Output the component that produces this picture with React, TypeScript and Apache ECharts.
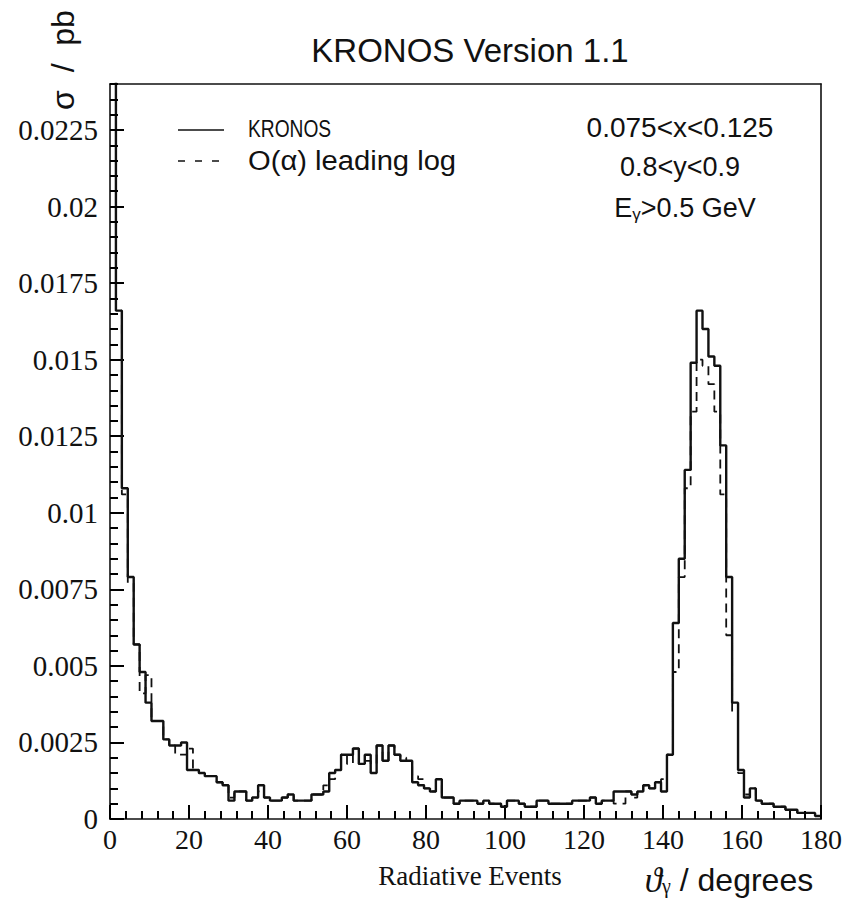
import React, { useEffect, useRef } from "react";
import * as echarts from "echarts";

// Histogram bins: 120 bins of 1.5 degrees from 0 to 180
const BIN_WIDTH = 1.5;
const X_MIN = 0;
const X_MAX = 180;
const Y_MAX = 0.024;

// KRONOS (solid) — value per bin, sigma / pb
const KRONOS = [
  0.0280, 0.0166, 0.0108, 0.0079, 0.0057, 0.0048, 0.0038, 0.0032, 0.0032, 0.0026,
  0.0024, 0.0024, 0.0025, 0.0016, 0.0016, 0.0015, 0.0014, 0.0014, 0.0012, 0.0011,
  0.0006, 0.0009, 0.0009, 0.0006, 0.0007, 0.0011, 0.0007, 0.0006, 0.0006, 0.0007,
  0.0008, 0.0006, 0.0006, 0.0006, 0.0008, 0.0008, 0.0009, 0.0015, 0.0016, 0.0021,
  0.0021, 0.0023, 0.0018, 0.0021, 0.0015, 0.0024, 0.0019, 0.0024, 0.0021, 0.0019,
  0.0019, 0.0012, 0.0011, 0.0010, 0.0009, 0.0013, 0.0007, 0.0007, 0.0005, 0.0006,
  0.0006, 0.0006, 0.0005, 0.0006, 0.0005, 0.0005, 0.0004, 0.0006, 0.0006, 0.0005,
  0.0004, 0.0004, 0.0006, 0.0006, 0.0005, 0.0005, 0.0005, 0.0005, 0.0006, 0.0006,
  0.0006, 0.0007, 0.0005, 0.0006, 0.0006, 0.0009, 0.0009, 0.0009, 0.0008, 0.0009,
  0.0011, 0.0010, 0.0012, 0.0009, 0.0021, 0.0064, 0.0085, 0.0114, 0.0149, 0.0166,
  0.0160, 0.0151, 0.0148, 0.0122, 0.0079, 0.0038, 0.0016, 0.0007, 0.0010, 0.0006,
  0.0005, 0.0005, 0.0004, 0.0004, 0.0003, 0.0003, 0.0002, 0.0002, 0.0002, 0.0001,
];

// O(alpha) leading log (dashed)
const LEADING_LOG = [
  0.0280, 0.0166, 0.0106, 0.0077, 0.0057, 0.0041, 0.0047, 0.0032, 0.0032, 0.0026,
  0.0024, 0.0021, 0.0021, 0.0023, 0.0016, 0.0015, 0.0014, 0.0014, 0.0012, 0.0011,
  0.0007, 0.0009, 0.0009, 0.0006, 0.0007, 0.0009, 0.0007, 0.0006, 0.0006, 0.0007,
  0.0008, 0.0006, 0.0006, 0.0006, 0.0008, 0.0008, 0.0011, 0.0013, 0.0016, 0.0021,
  0.0018, 0.0023, 0.0018, 0.0019, 0.0018, 0.0024, 0.0019, 0.0024, 0.0021, 0.0020,
  0.0019, 0.0014, 0.0013, 0.0010, 0.0009, 0.0011, 0.0007, 0.0007, 0.0005, 0.0006,
  0.0006, 0.0006, 0.0005, 0.0006, 0.0005, 0.0005, 0.0004, 0.0006, 0.0006, 0.0005,
  0.0004, 0.0004, 0.0006, 0.0006, 0.0005, 0.0005, 0.0005, 0.0005, 0.0006, 0.0006,
  0.0006, 0.0007, 0.0005, 0.0006, 0.0006, 0.0005, 0.0005, 0.0009, 0.0007, 0.0009,
  0.0011, 0.0010, 0.0012, 0.0013, 0.0021, 0.0048, 0.0079, 0.0108, 0.0133, 0.0150,
  0.0148, 0.0142, 0.0133, 0.0106, 0.0060, 0.0035, 0.0015, 0.0008, 0.0010, 0.0006,
  0.0005, 0.0005, 0.0004, 0.0004, 0.0003, 0.0003, 0.0002, 0.0002, 0.0002, 0.0001,
];

const X_TICK_LABELS = ["0", "20", "40", "60", "80", "100", "120", "140", "160", "180"];
const Y_TICK_LABELS = ["0", "0.0025", "0.005", "0.0075", "0.01", "0.0125", "0.015", "0.0175", "0.02", "0.0225"];
const X_MAJOR_STEP = 20;
const X_MINOR_STEP = 4;
const Y_MAJOR_STEP = 0.0025;
const Y_MINOR_STEP = 0.0005;

const TITLE = "KRONOS Version 1.1";
const LEGEND = ["KRONOS", "O(α) leading log"];
const CUTS = ["0.075<x<0.125", "0.8<y<0.9"];

const GRID = { left: 110, right: 25, top: 84, bottom: 81 };
const PLOT_W = 846 - GRID.left - GRID.right;
const PLOT_H = 900 - GRID.top - GRID.bottom;

function toSteps(vals: number[]) {
  const pts: number[][] = vals.map((v, i) => [i * BIN_WIDTH, v]);
  pts.push([X_MAX, vals[vals.length - 1]]);
  return pts;
}

// inward minor tick marks as short segments in data space (length given in px)
function tickSegments(axis: "x" | "y", step: number, max: number, lenPx: number) {
  const out: { coords: number[][] }[] = [];
  const n = Math.round(max / step + 1e-9);
  for (let i = 0; i <= n; i++) {
    const v = +(i * step).toFixed(6);
    if (axis === "x") out.push({ coords: [[v, 0], [v, (lenPx / PLOT_H) * Y_MAX]] });
    else out.push({ coords: [[X_MIN, v], [X_MIN + (lenPx / PLOT_W) * (X_MAX - X_MIN), v]] });
  }
  return out;
}

const SANS = "'Liberation Sans', Arial, sans-serif";
const SERIF = "'Liberation Serif', 'Times New Roman', serif";
const INK = "#111";

const tickLines = (data: any[], width: number) => ({
  type: "lines",
  coordinateSystem: "cartesian2d",
  xAxisIndex: 0,
  yAxisIndex: 0,
  silent: true,
  z: 6,
  effect: { show: false },
  lineStyle: { color: "#000", width, opacity: 1, curveness: 0 },
  data,
});

const frameAxisX = (position: string, main: boolean) => ({
  type: "value", min: X_MIN, max: X_MAX, interval: X_MAJOR_STEP, position,
  axisLine: { show: true, onZero: false, lineStyle: { color: INK, width: 1.6 } },
  axisTick: main
    ? { show: true, inside: true, length: 14, lineStyle: { color: "#000", width: 2 } }
    : { show: false },
  splitLine: { show: false },
  axisLabel: main
    ? {
        margin: 6, color: INK, fontFamily: SERIF, fontSize: 28,
        formatter: (v: number) => X_TICK_LABELS[Math.round(v / X_MAJOR_STEP)] ?? "",
      }
    : { show: false },
});

const frameAxisY = (position: string, main: boolean) => ({
  type: "value", min: 0, max: Y_MAX, interval: Y_MAJOR_STEP, position,
  axisLine: { show: true, onZero: false, lineStyle: { color: INK, width: 1.6 } },
  axisTick: main
    ? { show: true, inside: true, length: 14, lineStyle: { color: "#000", width: 2 } }
    : { show: false },
  splitLine: { show: false },
  axisLabel: main
    ? {
        margin: 12, color: INK, fontFamily: SERIF, fontSize: 29, showMaxLabel: false,
        formatter: (v: number) => {
          const k = Math.round(v / Y_MAJOR_STEP);
          return Math.abs(v - k * Y_MAJOR_STEP) < 1e-9 ? Y_TICK_LABELS[k] ?? "" : "";
        },
      }
    : { show: false },
});

export default function App() {
  const ref = useRef<HTMLDivElement>(null);
  useEffect(() => {
    document.body.style.margin = "0";
    const chart = echarts.init(ref.current!, null, { renderer: "svg" });
    const option: any = {
      animation: false,
      backgroundColor: "#fff",
      grid: { ...GRID, show: false },
      xAxis: [frameAxisX("bottom", true), frameAxisX("top", false)],
      yAxis: [frameAxisY("left", true), frameAxisY("right", false)],
      series: [
        {
          name: LEGEND[1], type: "line", step: "end", data: toSteps(LEADING_LOG),
          showSymbol: false, symbol: "none", clip: true,
          lineStyle: { color: INK, width: 1.8, type: [9, 6] }, z: 2,
        },
        {
          name: LEGEND[0], type: "line", step: "end", data: toSteps(KRONOS),
          showSymbol: false, symbol: "none", clip: true,
          lineStyle: { color: INK, width: 2.4 }, z: 3,
        },
        tickLines(tickSegments("x", X_MINOR_STEP, X_MAX, 8), 2),
        tickLines(tickSegments("y", Y_MINOR_STEP, Y_MAX, 8), 2),
      ],
      graphic: [
        { type: "text", x: 470, y: 50, style: { text: TITLE, fill: INK, font: `33px ${SANS}`, align: "center", verticalAlign: "middle" } },
        { type: "text", x: 63, y: 60, rotation: Math.PI / 2, style: { text: "σ  /  pb", fill: INK, font: `32px ${SANS}`, align: "center", verticalAlign: "middle" } },
        { type: "line", shape: { x1: 178, y1: 130, x2: 224, y2: 130 }, style: { stroke: INK, lineWidth: 1.5 } },
        { type: "text", x: 248, y: 129, scaleX: 0.8, style: { text: LEGEND[0], fill: INK, font: `24px ${SANS}`, align: "left", verticalAlign: "middle" } },
        { type: "line", shape: { x1: 178, y1: 161, x2: 224, y2: 161 }, style: { stroke: INK, lineWidth: 1.5, lineDash: [7, 10] } },
        { type: "text", x: 248, y: 161, scaleX: 1.08, style: { text: LEGEND[1], fill: INK, font: `27px ${SANS}`, align: "left", verticalAlign: "middle" } },
        { type: "text", x: 680, y: 127, style: { text: CUTS[0], fill: INK, font: `28px ${SANS}`, align: "center", verticalAlign: "middle" } },
        { type: "text", x: 680, y: 167, style: { text: CUTS[1], fill: INK, font: `27px ${SANS}`, align: "center", verticalAlign: "middle" } },
        {
          type: "text", x: 685, y: 208,
          style: {
            text: "{m|E}{s|γ}{m|>0.5 GeV}", align: "center", verticalAlign: "middle",
            rich: {
              m: { fontSize: 27, fontFamily: SANS, fill: INK },
              s: { fontSize: 17, fontFamily: SANS, fill: INK, padding: [12, 0, 0, 0] },
            },
          },
        },
        { type: "text", x: 470, y: 876, style: { text: "Radiative Events", fill: INK, font: `27px ${SERIF}`, align: "center", verticalAlign: "middle" } },
        {
          type: "text", x: 729, y: 880,
          style: {
            text: "{t|ϑ}{s|γ}{m| / degrees}", align: "center", verticalAlign: "middle",
            rich: {
              t: { fontSize: 35, fontFamily: SERIF, fontStyle: "italic", fill: INK },
              s: { fontSize: 20, fontFamily: SERIF, fill: INK, padding: [12, 0, 0, 0] },
              m: { fontSize: 32, fontFamily: SANS, fill: INK },
            },
          },
        },
      ],
    };
    chart.setOption(option);
    return () => chart.dispose();
  }, []);
  return <div ref={ref} style={{ width: 846, height: 900, background: "#fff" }} />;
}
